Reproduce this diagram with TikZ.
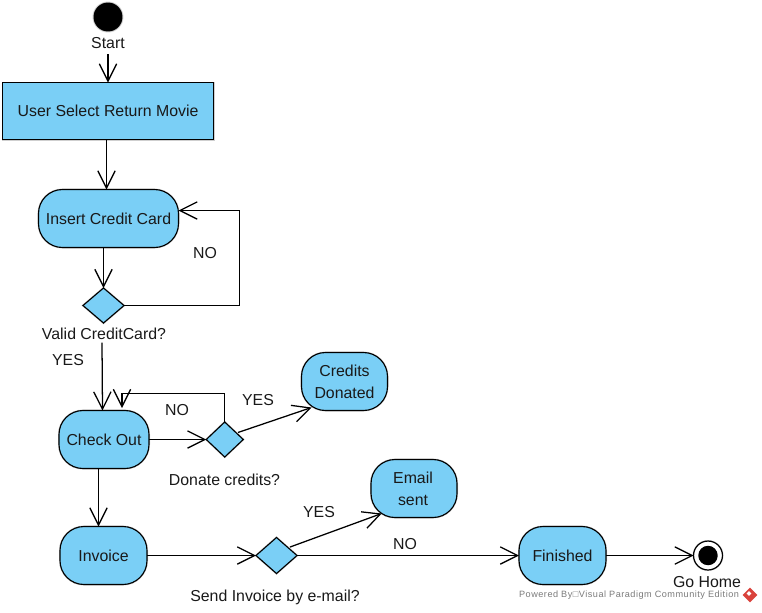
\documentclass[tikz,border=0pt]{standalone}
\usepackage{fontspec}
\setmainfont{Liberation Sans}
\newfontfamily\tinyfont[LetterSpace=5.5]{Liberation Sans}
\usetikzlibrary{arrows.meta,shapes.geometric}
\definecolor{nodeblue}{HTML}{7ACFF6}
\definecolor{haloGray}{HTML}{CFCFCF}
\definecolor{markgray}{HTML}{7A7A7A}
\definecolor{logored}{HTML}{D9423C}
\tikzset{
  x=0.75pt,y=-0.75pt,
  every node/.style={outer sep=0pt,inner sep=0pt,font=\fontsize{11.9}{16.5}\selectfont,text=black!90},
  halo/.style={preaction={draw=haloGray,line width=1.5pt}},
  rectbox/.style={draw=black,line width=0.85pt,fill=nodeblue,halo,rectangle},
  roundbox/.style={rectbox,rounded corners=18pt},
  decision/.style={draw=black,line width=0.85pt,fill=nodeblue,halo,diamond,aspect=1},
  label/.style={align=center,text height=9pt,text depth=2.6pt},
  flow/.style={draw=black,line width=0.95pt,-{Straight Barb[length=13pt,width=13pt,line width=0.95pt]}},
}
\begin{document}
\begin{tikzpicture}
\useasboundingbox (0,0) rectangle (762,612);
\node[circle,fill=black,minimum size=21.7pt,halo] (start) at (108,17) {};
\node[label] (startlbl) at (108,44.5) {Start};
\node[rectbox,minimum width=158.25pt,minimum height=42.75pt] (select) at (108,111) {\raisebox{-0.6pt}{User Select Return Movie}};
\node[roundbox,minimum width=105pt,minimum height=43.5pt] (insert) at (108.5,218.5) {\raisebox{-1pt}{Insert Credit Card}};
\node[decision,minimum width=30.75pt,minimum height=26.25pt] (valid) at (103.5,305.5) {};
\node[label] (validlbl) at (104,335.5) {Valid CreditCard?};
\node[label] (yes1) at (68,361.5) {YES};
\node[label] (no1) at (205,254.5) {NO};
\node[roundbox,minimum width=67.5pt,minimum height=43.5pt] (checkout) at (104,439.5) {Check Out};
\node[decision,minimum width=27.75pt,minimum height=26.25pt] (donate) at (224.75,439.5) {};
\node[label] (donatelbl) at (224.5,481.5) {Donate credits?};
\node[label] (no2) at (177,411.5) {NO};
\node[label] (yes2) at (258,401.5) {YES};
\node[roundbox,minimum width=64.5pt,minimum height=43.5pt,align=center] (credits) at (344.5,381.5) {\raisebox{-0.6pt}{Credits}\\[0pt]\raisebox{-0.6pt}{Donated}};
\node[roundbox,minimum width=65.25pt,minimum height=43.5pt] (invoice) at (103.5,555.5) {Invoice};
\node[decision,minimum width=30.75pt,minimum height=27pt] (send) at (276.5,555.5) {};
\node[label] (sendlbl) at (275,597.5) {Send Invoice by e-mail?};
\node[label] (yes3) at (319,513.5) {YES};
\node[label] (no3) at (405,545.5) {NO};
\node[roundbox,minimum width=64.5pt,minimum height=43.5pt,align=center] (email) at (414,488.5) {\hspace{-1.5pt}\raisebox{-0.6pt}{Email}\\[0pt]\hspace{-1.5pt}\raisebox{-0.6pt}{sent}};
\node[roundbox,minimum width=65.25pt,minimum height=43.5pt] (finished) at (562.5,555.5) {Finished};
\node[circle,draw=black,line width=0.9pt,fill=white,halo,minimum size=21.7pt] (endout) at (708,555.5) {};
\node[circle,fill=black,minimum size=14.6pt] (endin) at (708,555.5) {};
\node[label] (golbl) at (707,583.5) {Go Home};
\node[anchor=east,text=markgray,font=\fontsize{6.85}{8}\tinyfont] (mark) at (739,595.5) {Powered By□Visual Paradigm Community Edition};
\node[diamond,fill=logored,minimum width=11pt,minimum height=11pt] (logo) at (750,595) {};
\node[diamond,fill=white,minimum width=3.6pt,minimum height=3.6pt] (logoin) at (749,593.5) {};

\draw[flow] ([yshift=-1.5pt]startlbl.south) -- (select.north);
\draw[flow] (select.south -| 106.5,0) -- (insert.north -| 106.5,0);
\draw[flow] (insert.south -| valid.north) -- (valid.north);
\draw[flow] (valid.east) -| (239.5,210.5) -- (insert.east |- 0,210.5);
\draw[flow] ([xshift=-1.5pt,yshift=0.5pt]validlbl.south) -- (checkout.north -| 102.5,0);
\draw[flow] (checkout.east) -- (donate.west);
\draw[flow] (donate.north) |- (122,393.5) -- (122,408);
\draw[flow] ([shift={(3pt,-1.3pt)}]donate.north east) -- ([shift={(7.5pt,2.25pt)}]credits.south west);
\draw[flow] (checkout.south -| 98.5,0) -- (invoice.north -| 98.5,0);
\draw[flow] (invoice.east) -- (send.west);
\draw[flow] ([shift={(2.4pt,-0.4pt)}]send.north east) -- ([shift={(8pt,3pt)}]email.south west);
\draw[flow] (send.east) -- (finished.west);
\draw[flow] (finished.east) -- (endout.west);
\end{tikzpicture}
\end{document}
